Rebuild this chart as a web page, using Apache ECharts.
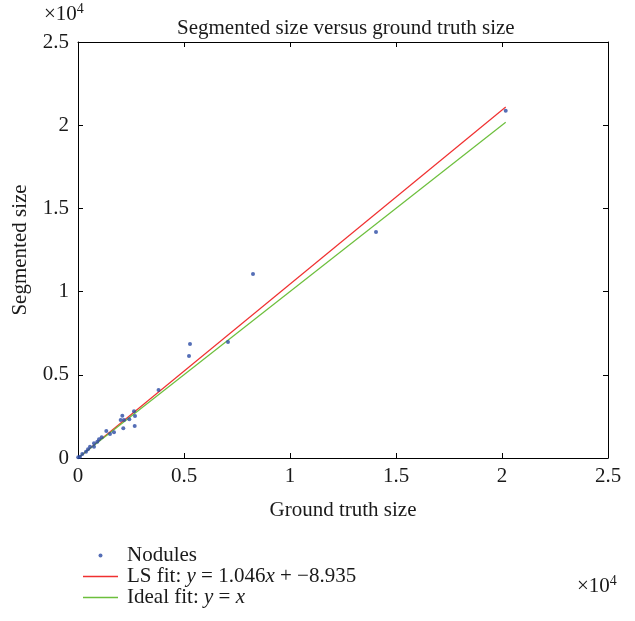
<!DOCTYPE html>
<html>
<head>
<meta charset="utf-8">
<script src="https://cdn.jsdelivr.net/npm/echarts@6/dist/echarts.min.js"></script>
<style>
  html, body { margin: 0; padding: 0; background: #fff; }
  #chart { width: 635px; height: 621px; }
</style>
</head>
<body>
<div id="chart"></div>
<script>
// nodules: [ground truth size, segmented size]
const nodules = [
  [10, 40], [94, 78], [203, 240], [377, 379], [472, 523], [566, 679], [755, 679],
  [755, 883], [910, 980], [991, 1124], [1118, 1244], [1335, 1623], [1510, 1440],
  [1698, 1544], [2014, 2284], [2090, 2542], [2137, 1785], [2170, 2284], [2420, 2326],
  [2642, 2806], [2675, 1923], [2689, 2524], [3800, 4087], [5236, 6130], [5283, 6851],
  [7075, 6971], [8255, 11058], [14057, 13582], [20175, 20871]
]
// fitted lines, end points
const lsFit = [[10, 1.5], [20175, 21094]]
const idealFit = [[10, 10], [20175, 20175]]
const tickValues = [0, 5000, 10000, 15000, 20000, 25000]
const tickLabels = ['0', '0.5', '1', '1.5', '2', '2.5']

const font = 'Liberation Serif'
const fs = 21
const ink = '#1a1a1a'
const red = '#f03030'
const green = '#6cbf3c'
const blue = '#2a4aa4'
const labelFmt = v => tickLabels[tickValues.indexOf(v)] || ''

const chart = echarts.init(document.getElementById('chart'))

const baseAxis = {
  type: 'value',
  min: 0,
  max: 25000,
  interval: 5000,
  splitLine: { show: false },
  axisLine: { show: true, onZero: false, lineStyle: { color: '#000', width: 1 } },
  axisTick: { show: true, inside: true, length: 5, lineStyle: { color: '#000' } }
}

const lineIcon = 'path://M0 0H35V1.6H0Z'

chart.setOption({
  animation: false,
  title: {
    text: 'Segmented size versus ground truth size',
    left: 172,
    top: 13,
    textStyle: { fontFamily: font, fontSize: fs, fontWeight: 'normal', color: ink }
  },
  grid: { left: 78, right: 27, top: 42, bottom: 163 },
  xAxis: [
    Object.assign({}, baseAxis, {
      position: 'bottom',
      name: 'Ground truth size',
      nameLocation: 'middle',
      nameGap: 42,
      nameTextStyle: { fontFamily: font, fontSize: fs, color: ink },
      axisLabel: { formatter: labelFmt, fontFamily: font, fontSize: fs, color: ink, margin: 8 }
    }),
    Object.assign({}, baseAxis, {
      position: 'top',
      axisLabel: { show: false }
    })
  ],
  yAxis: [
    Object.assign({}, baseAxis, {
      position: 'left',
      name: 'Segmented size',
      nameLocation: 'middle',
      nameGap: 47,
      nameTextStyle: { fontFamily: font, fontSize: fs, color: ink },
      axisLabel: { formatter: labelFmt, fontFamily: font, fontSize: fs, color: ink, margin: 9 }
    }),
    Object.assign({}, baseAxis, {
      position: 'right',
      axisLabel: { show: false }
    })
  ],
  legend: {
    orient: 'vertical',
    left: 78,
    top: 540,
    itemWidth: 35,
    itemHeight: 4,
    itemGap: 0,
    textStyle: {
      fontFamily: font,
      fontSize: fs,
      color: ink,
      padding: [0, 0, 0, 4],
      rich: {
        n: { fontFamily: font, fontSize: fs, color: ink },
        i: { fontFamily: font, fontSize: fs, color: ink, fontStyle: 'italic' }
      }
    },
    formatter: function(name) {
      if (name === 'LS fit') return '{n|LS fit: }{i|y}{n| = 1.046}{i|x}{n| + −8.935}'
      if (name === 'Ideal fit') return '{n|Ideal fit: }{i|y}{n| = }{i|x}'
      return '{n|' + name + '}'
    },
    data: [
      { name: 'Nodules', icon: 'circle', itemStyle: { color: blue } },
      { name: 'LS fit', icon: lineIcon, itemStyle: { color: red } },
      { name: 'Ideal fit', icon: lineIcon, itemStyle: { color: green } }
    ]
  },
  graphic: [
    {
      type: 'text',
      left: 44,
      top: 2,
      style: {
        text: '×10{s|4}',
        fontFamily: font,
        fontSize: fs,
        fill: ink,
        rich: { s: { fontFamily: font, fontSize: 14, fill: ink, verticalAlign: 'top', padding: [0, 0, 10, 0] } }
      }
    },
    {
      type: 'text',
      left: 577,
      top: 574,
      style: {
        text: '×10{s|4}',
        fontFamily: font,
        fontSize: fs,
        fill: ink,
        rich: { s: { fontFamily: font, fontSize: 14, fill: ink, verticalAlign: 'top', padding: [0, 0, 10, 0] } }
      }
    }
  ],
  series: [
    {
      name: 'Nodules',
      type: 'scatter',
      data: nodules,
      symbolSize: 4,
      itemStyle: { color: blue },
      z: 3
    },
    {
      name: 'LS fit',
      type: 'line',
      data: lsFit,
      symbol: 'none',
      itemStyle: { color: red },
      lineStyle: { color: red, width: 1.2 },
      z: 2
    },
    {
      name: 'Ideal fit',
      type: 'line',
      data: idealFit,
      symbol: 'none',
      itemStyle: { color: green },
      lineStyle: { color: green, width: 1.2 },
      z: 2
    }
  ]
})
</script>
</body>
</html>
